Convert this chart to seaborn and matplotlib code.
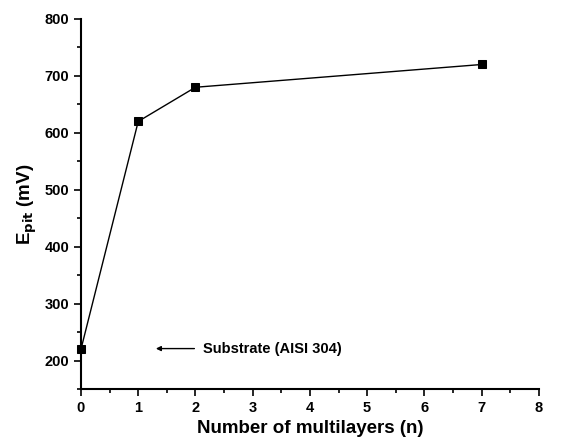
import matplotlib
matplotlib.use("Agg")
import matplotlib.pyplot as plt
import seaborn as sns
import pandas as pd
from matplotlib.ticker import MultipleLocator

# Datos
n_layers = [0, 1, 2, 7]
e_pit = [220, 620, 680, 720]
data = pd.DataFrame({"n": n_layers, "Epit": e_pit})

sns.set_style("ticks")
plt.rcParams['font.family'] = ['Liberation Sans', 'DejaVu Sans']
plt.rcParams['font.weight'] = 'bold'
plt.rcParams['text.color'] = 'black'
plt.rcParams['axes.labelcolor'] = 'black'
plt.rcParams['xtick.color'] = 'black'
plt.rcParams['ytick.color'] = 'black'
plt.rcParams['mathtext.default'] = 'bf'

fig = plt.figure(figsize=(5.72, 4.48), dpi=100)
ax = fig.add_axes([0.1416, 0.1317, 0.8004, 0.826])

sns.lineplot(data=data, x="n", y="Epit", ax=ax, color="black", linewidth=1,
             marker="s", markersize=6, markeredgecolor="black")
for ln in ax.get_lines():
    ln.set_clip_on(False)
    ln.set_zorder(5)

ax.set_xlim(0, 8)
ax.set_ylim(150, 800)
ax.xaxis.set_major_locator(MultipleLocator(1))
ax.xaxis.set_minor_locator(MultipleLocator(0.5))
ax.yaxis.set_minor_locator(MultipleLocator(50))
ax.set_yticks(range(200, 801, 100))
ax.tick_params(which="major", direction="out", length=5, width=1.2, labelsize=10.5, colors="black")
ax.tick_params(which="minor", direction="out", length=3, width=1.2, colors="black")
for lbl in ax.get_xticklabels() + ax.get_yticklabels():
    lbl.set_fontweight("bold")

for s in ["left", "bottom"]:
    ax.spines[s].set_linewidth(1.5)
    ax.spines[s].set_color("black")
sns.despine(ax=ax)

ax.set_xlabel("Number of multilayers (n)", fontsize=13.5, fontweight="bold", color="black")
ax.set_ylabel(r"E$_{\mathbf{pit}}$ (mV)", fontsize=13.5, fontweight="bold", color="black")

ax.annotate("", xy=(1.26, 221), xytext=(2.03, 221),
            arrowprops=dict(arrowstyle="-|>", color="black", lw=1, mutation_scale=7))
ax.text(2.13, 221, "Substrate (AISI 304)", fontsize=10.5, fontweight="bold",
        va="center", ha="left", color="black")

fig.savefig("out.png", dpi=100)
